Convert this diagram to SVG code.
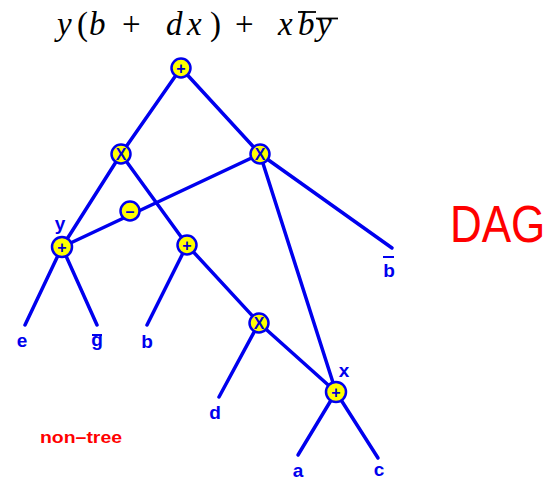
<svg xmlns="http://www.w3.org/2000/svg" width="554" height="480" viewBox="0 0 554 480">
<style>
.e{stroke:#0000ee;stroke-width:3.5;stroke-linecap:round;fill:none}
.n{fill:#ffff00;stroke:#0000ee;stroke-width:2.5}
.s{font-family:"Liberation Sans",Arial,sans-serif;font-weight:bold;fill:#0000cc;text-anchor:middle}
.lb{font-family:"Liberation Sans",Arial,sans-serif;font-weight:bold;fill:#0000ee;font-size:19px;text-anchor:middle}
.ol{stroke:#0000ee;stroke-width:2}
.m{font-family:"Liberation Serif","Times New Roman",serif;font-size:33px;fill:#000}
.i{font-style:italic}
</style>
<rect width="554" height="480" fill="#fff"/>
<g id="formula">
<text class="m" y="35"><tspan class="i" x="57">y</tspan><tspan x="77">(</tspan><tspan class="i" x="89">b</tspan><tspan x="122">+</tspan><tspan class="i" x="166">d</tspan><tspan class="i" x="187">x</tspan><tspan x="210">)</tspan><tspan x="235">+</tspan><tspan class="i" x="278">x</tspan><tspan class="i" x="298">b</tspan><tspan class="i" x="317">y</tspan></text>
<line x1="298" y1="12" x2="316" y2="12" stroke="#000" stroke-width="1.8"/>
<line x1="316" y1="18.5" x2="338" y2="18.5" stroke="#000" stroke-width="1.8"/>
</g>
<g id="connectors">
<line class="e" x1="181" y1="68" x2="121" y2="154"/>
<line class="e" x1="181" y1="68" x2="260" y2="154"/>
<line class="e" x1="121" y1="154" x2="62" y2="247"/>
<line class="e" x1="121" y1="154" x2="187" y2="245"/>
<line class="e" x1="260" y1="154" x2="62" y2="247"/>
<line class="e" x1="260" y1="154" x2="336" y2="392"/>
<line class="e" x1="260" y1="154" x2="392" y2="248"/>
<line class="e" x1="62" y1="247" x2="25" y2="325"/>
<line class="e" x1="62" y1="247" x2="97" y2="325"/>
<line class="e" x1="187" y1="245" x2="147" y2="325"/>
<line class="e" x1="187" y1="245" x2="259" y2="323"/>
<line class="e" x1="259" y1="323" x2="219" y2="397"/>
<line class="e" x1="259" y1="323" x2="336" y2="392"/>
<line class="e" x1="336" y1="392" x2="298" y2="455"/>
<line class="e" x1="336" y1="392" x2="378" y2="458"/>
</g>
<g id="root"><circle class="n" cx="181" cy="68" r="9.5"/><text class="s" x="181" y="74" font-size="16">+</text></g>
<g id="times-left"><circle class="n" cx="121" cy="154" r="9.5"/><text class="s" x="121" y="160" font-size="16">X</text></g>
<g id="times-right"><circle class="n" cx="260" cy="154" r="9.5"/><text class="s" x="260" y="160" font-size="16">X</text></g>
<g id="minus"><circle class="n" cx="130" cy="211" r="9.5"/><text class="s" x="130" y="217" font-size="16">–</text></g>
<g id="plus-y"><circle class="n" cx="62" cy="247" r="10"/><text class="s" x="62" y="253" font-size="16">+</text><text class="lb" x="60" y="230">y</text></g>
<g id="plus-mid"><circle class="n" cx="187" cy="245" r="9.5"/><text class="s" x="187" y="251" font-size="16">+</text></g>
<g id="times-lower"><circle class="n" cx="259" cy="323" r="9.5"/><text class="s" x="259" y="329" font-size="16">X</text></g>
<g id="plus-x"><circle class="n" cx="336" cy="392" r="10"/><text class="s" x="336" y="398" font-size="16">+</text><text class="lb" x="344" y="377">x</text></g>
<g id="leaf-e"><text class="lb" x="22" y="347">e</text></g>
<g id="leaf-gbar"><text class="lb" x="97" y="346">g</text><line class="ol" x1="92" y1="335" x2="102" y2="335"/></g>
<g id="leaf-b"><text class="lb" x="147" y="348">b</text></g>
<g id="leaf-bbar"><text class="lb" x="389" y="277">b</text><line class="ol" x1="383" y1="257" x2="394" y2="257"/></g>
<g id="leaf-d"><text class="lb" x="215" y="419">d</text></g>
<g id="leaf-a"><text class="lb" x="298" y="477">a</text></g>
<g id="leaf-c"><text class="lb" x="379" y="476">c</text></g>
<text transform="translate(450,242) scale(1,1.16)" font-family="Liberation Sans,Arial,sans-serif" font-size="44" fill="#ff0000">DAG</text>
<text x="40" y="443" font-family="Liberation Sans,Arial,sans-serif" font-size="17" font-weight="bold" fill="#ff0000" textLength="82" lengthAdjust="spacingAndGlyphs">non–tree</text>
</svg>
